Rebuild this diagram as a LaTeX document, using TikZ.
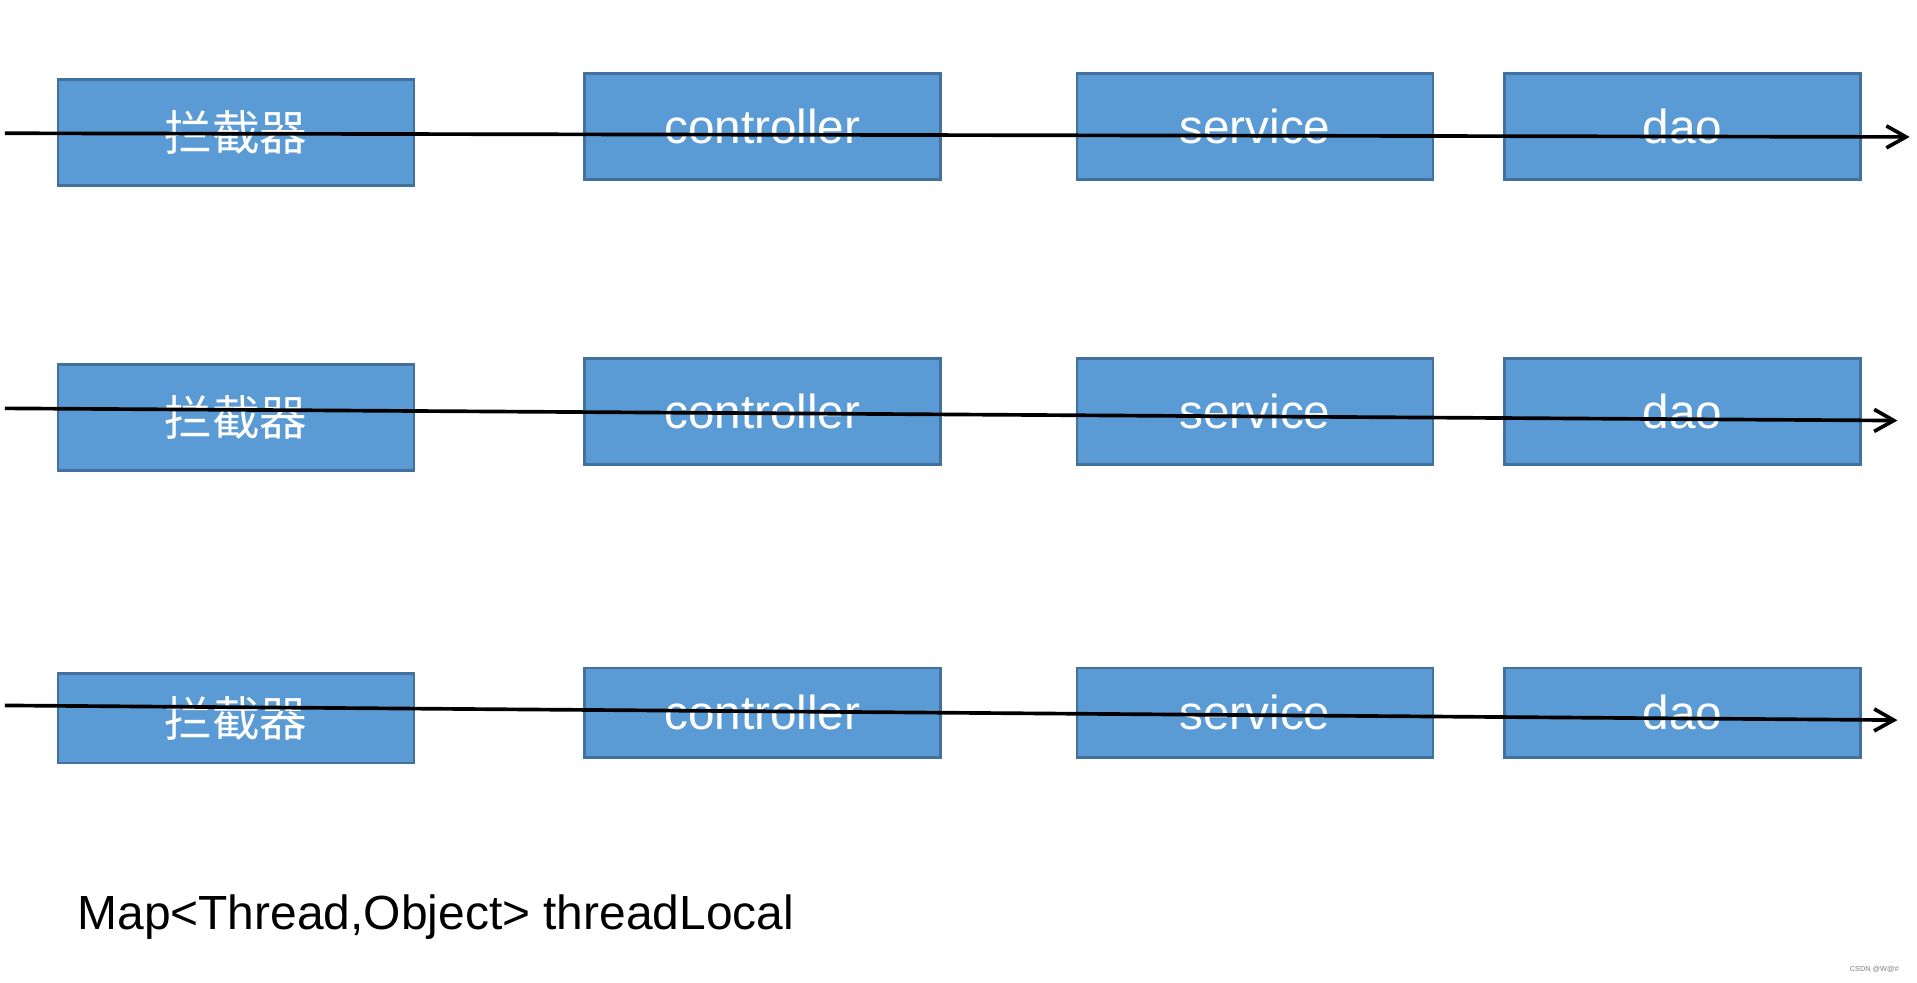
\documentclass[tikz,border=0pt]{standalone}
\usepackage{fontspec}
\setmainfont{Liberation Sans}
\newfontfamily\cjk{Noto Sans CJK SC}
\usetikzlibrary{arrows.meta}
\definecolor{boxfill}{HTML}{5B9BD5}
\definecolor{boxline}{HTML}{41719C}
\tikzset{
  blk/.style={draw=boxline, fill=boxfill, line width=1.1pt, inner sep=0pt, outer sep=0pt,
    minimum width=145.5pt, text=white, font=\fontsize{19.5}{22}\selectfont},
  tall/.style={blk, minimum height=43.5pt},
  short/.style={blk, minimum height=36.5pt},
  flow/.style={line width=1.5pt, -{Straight Barb[length=8pt,width=9pt,line width=1.5pt]}}
}
\begin{document}
\begin{tikzpicture}[x=0.5pt,y=-0.5pt]
\useasboundingbox (0,0) rectangle (1568,804);
% row 1
\node[tall] (i1) at (193,108.5) {\cjk 拦截器};
\node[tall] (c1) at (623.5,103.5) {controller};
\node[tall] (s1) at (1026.5,103.5) {service};
\node[tall] (d1) at (1376,103.5) {dao};
% row 2
\node[tall] (i2) at (193,341.5) {\cjk 拦截器};
\node[tall] (c2) at (623.5,336.5) {controller};
\node[tall] (s2) at (1026.5,336.5) {service};
\node[tall] (d2) at (1376,336.5) {dao};
% row 3
\node[short] (i3) at (193,587.5) {\cjk 拦截器};
\node[short] (c3) at (623.5,583) {controller};
\node[short] (s3) at (1026.5,583) {service};
\node[short] (d3) at (1376,583) {dao};
% arrows
\coordinate (a1s) at (4,109);
\coordinate (a1e) at (1562,112);
\coordinate (a2s) at (4,334);
\coordinate (a2e) at (1552,344);
\coordinate (a3s) at (4,577);
\coordinate (a3e) at (1552,589);
\draw[flow] (a1s) -- (a1e);
\draw[flow] (a2s) -- (a2e);
\draw[flow] (a3s) -- (a3e);
% caption
\node[anchor=base west, inner sep=0pt, font=\fontsize{19.6}{23}\selectfont] (cap) at (63,760) {Map<Thread,Object> threadLocal};
\node[anchor=center, inner sep=0pt, text=gray, font=\fontsize{3}{4}\selectfont] (wm) at (1533,793) {CSDN @W@\#};
\end{tikzpicture}
\end{document}
